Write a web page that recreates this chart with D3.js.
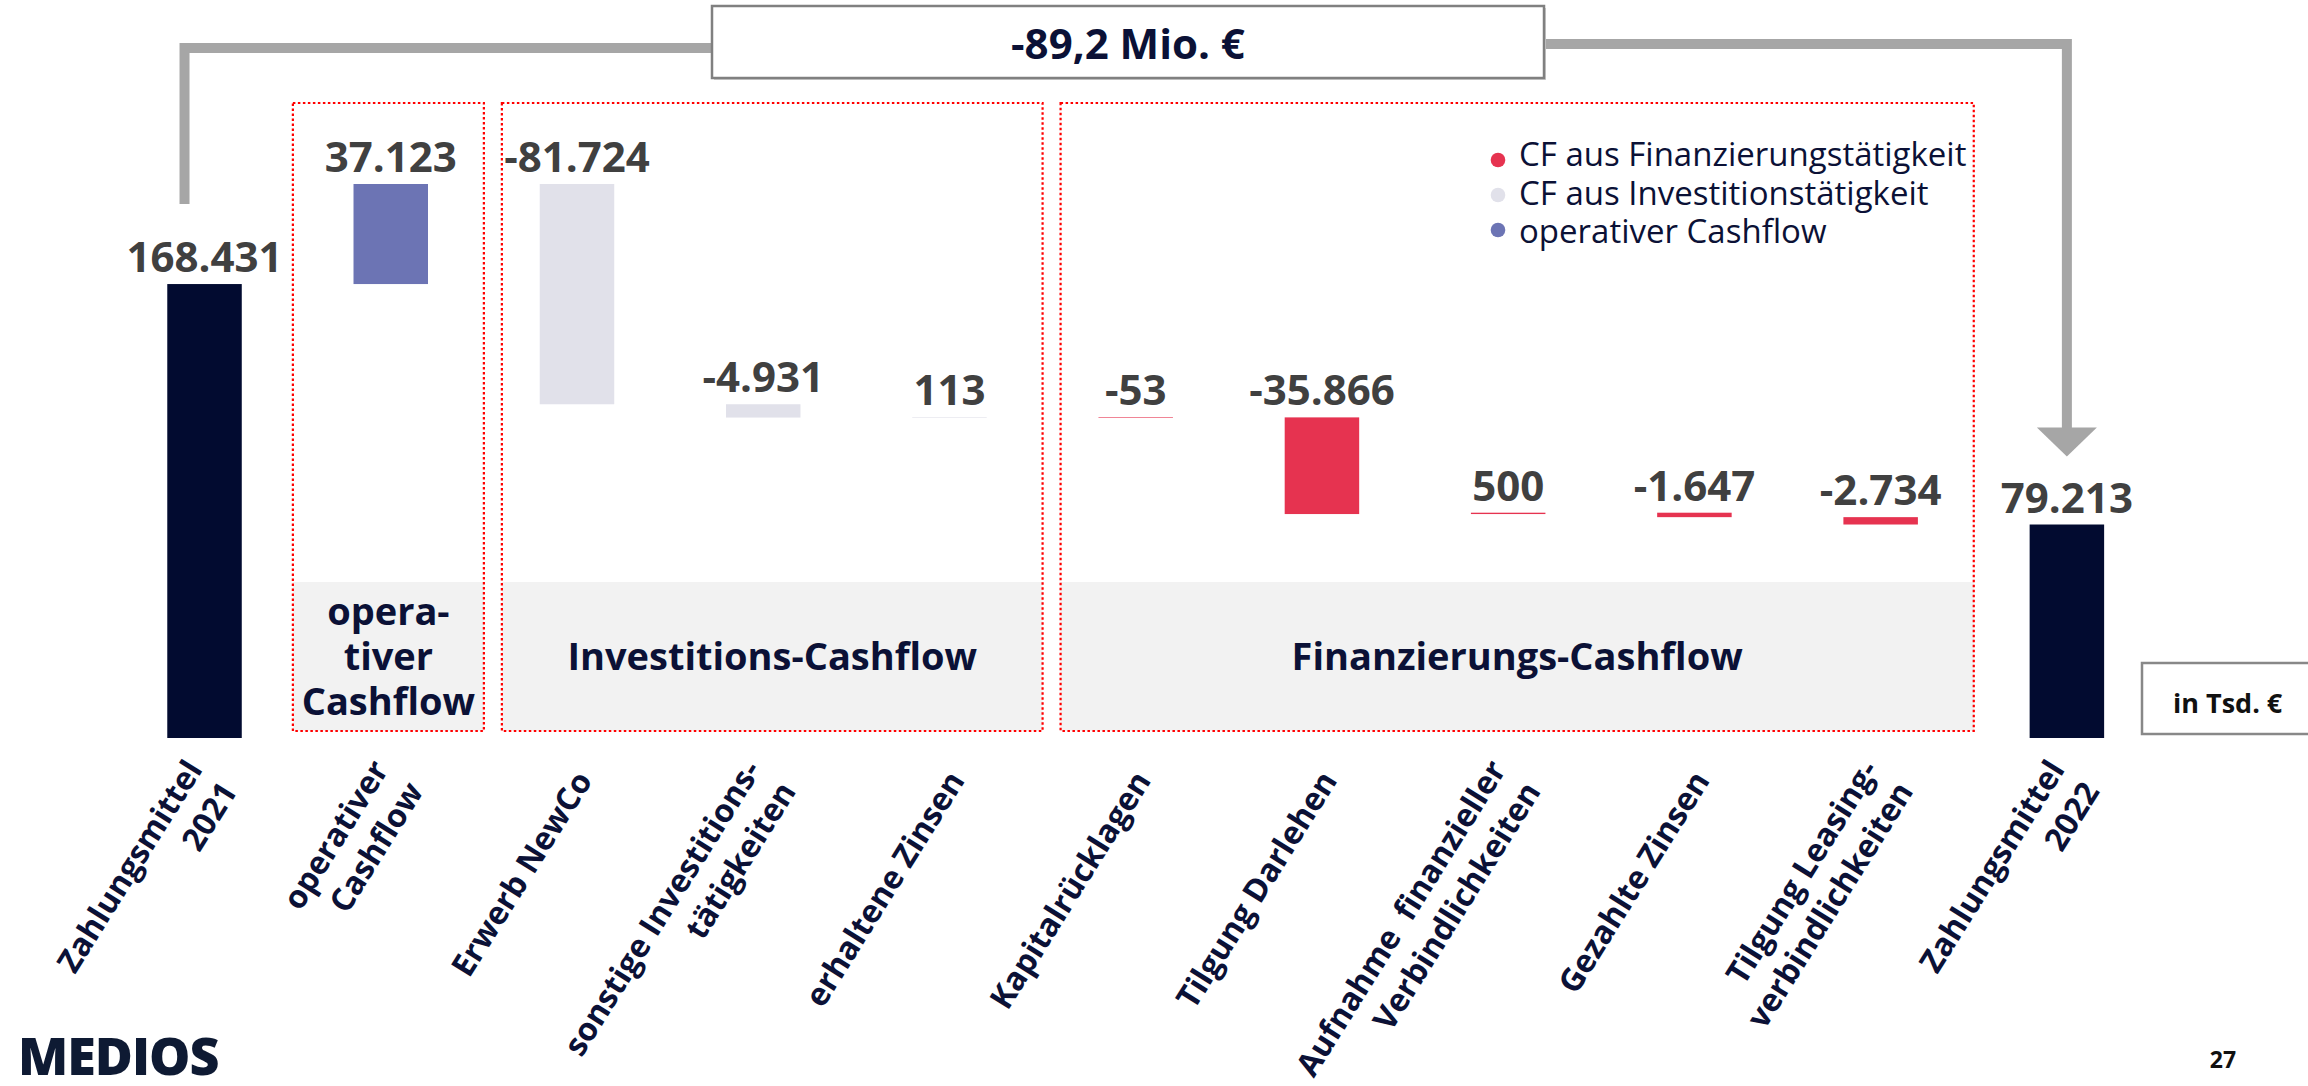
<!DOCTYPE html>
<html>
<head>
<meta charset="utf-8">
<script src="https://cdn.jsdelivr.net/npm/d3@7"></script>
<style>
  body { margin: 0; background: #fff; }
  svg { display: block; font-family: "Open Sans", sans-serif; }
</style>
</head>
<body>
<svg id="chart" width="2308" height="1086"></svg>
<script>
// --- data (in Tsd. €) ---
const categories = [
    "Zahlungsmittel\n2021",
    "operativer\nCashflow",
    "Erwerb NewCo",
    "sonstige Investitions-\ntätigkeiten",
    "erhaltene Zinsen",
    "Kapitalrücklagen",
    "Tilgung Darlehen",
    "Aufnahme  finanzieller\nVerbindlichkeiten",
    "Gezahlte Zinsen",
    "Tilgung Leasing-\nverbindlichkeiten",
    "Zahlungsmittel\n2022"
];
const values = [168431, 37123, -81724, -4931, 113, -53, -35866, 500, -1647, -2734, 79213];
const kinds = ["total", "operativ", "invest", "invest", "invest", "finanz", "finanz", "finanz", "finanz", "finanz", "total"];

const groupTitles = ["opera-\ntiver\nCashflow", "Investitions-Cashflow", "Finanzierungs-Cashflow"];
const groupFirst = [1, 2, 5];
const groupLast = [1, 4, 9];

const legendLabels = ["CF aus Finanzierungstätigkeit", "CF aus Investitionstätigkeit", "operativer Cashflow"];
const legendKinds = ["finanz", "invest", "operativ"];

const unitLabel = "in Tsd. €";
const logoText = "MEDIOS";
const pageNumber = "27";

// --- styles ---
const colors = { total: "#020b30", operativ: "#6c74b4", invest: "#e1e1ea", finanz: "#e63350" };
const navy = "#0b1136";
const grey = "#a6a6a6";

const de = d3.formatLocale({ decimal: ",", thousands: ".", grouping: [3], currency: ["", " €"], minus: "-" });
const fmt = de.format(",");
const fmtMio = de.format(",.1f");

const svg = d3.select('#chart');

// waterfall
let run = 0;
const bars = values.map((v, i) => {
    let y0, y1;
    if (kinds[i] === "total") { y0 = 0; y1 = v; run = v; }
    else { y0 = run; y1 = run + v; run = y1; }
    return { i, v, kind: kinds[i], y0, y1 };
});

const x = d3.scaleBand()
    .domain(d3.range(values.length))
    .range([111.4, 2160])
    .paddingInner(0.6)
    .paddingOuter(0.3);
const cx = i => x(i) + x.bandwidth() / 2;

const y = d3.scaleLinear()
    .domain([0, d3.max(bars, b => Math.max(b.y0, b.y1))])
    .range([738, 184]);

// group panels
const groups = groupTitles.map((t, k) => {
    const s = groupFirst[k], e = groupLast[k];
    const right = (cx(e) + cx(e + 1)) / 2;
    let left = (cx(s - 1) + cx(s)) / 2 + 18;
    if (right - left < 191) left = right - 191;
    return { title: t, left, right };
});

const boxTop = 103, boxBottom = 731, panelTop = 582;

svg.append('g').selectAll('rect')
    .data(groups)
    .join('rect')
    .attr('x', d => d.left)
    .attr('y', panelTop)
    .attr('width', d => d.right - d.left)
    .attr('height', boxBottom - panelTop)
    .attr('fill', '#f2f2f2');

// bars
svg.append('g').selectAll('rect')
    .data(bars)
    .join('rect')
    .attr('x', d => x(d.i))
    .attr('width', x.bandwidth())
    .attr('y', d => Math.min(y(d.y0), y(d.y1)))
    .attr('height', d => Math.max(Math.abs(y(d.y0) - y(d.y1)), 0.6))
    .attr('fill', d => colors[d.kind]);

// value labels
svg.append('g').selectAll('text')
    .data(bars)
    .join('text')
    .attr('x', d => cx(d.i))
    .attr('y', d => Math.min(y(d.y0), y(d.y1)) - 12)
    .attr('text-anchor', 'middle')
    .attr('font-size', 42)
    .attr('font-weight', 700)
    .attr('fill', '#404040')
    .text(d => fmt(d.v));

// dotted group boxes
svg.append('g').selectAll('rect')
    .data(groups)
    .join('rect')
    .attr('x', d => d.left)
    .attr('y', boxTop)
    .attr('width', d => d.right - d.left)
    .attr('height', boxBottom - boxTop)
    .attr('fill', 'none')
    .attr('stroke', '#ff0000')
    .attr('stroke-width', 2.2)
    .attr('stroke-dasharray', '2.5 2.5');

// group titles
groups.forEach(g => {
    const lines = g.title.split('\n');
    const mid = (panelTop + boxBottom) / 2 + 13;
    const t = svg.append('text')
        .attr('text-anchor', 'middle')
        .attr('font-size', 38)
        .attr('font-weight', 700)
        .attr('fill', navy);
    lines.forEach((l, j) => {
        t.append('tspan')
            .attr('x', (g.left + g.right) / 2)
            .attr('y', mid + (j - (lines.length - 1) / 2) * 45)
            .text(l);
    });
});

// legend
const legend = svg.append('g').attr('transform', 'translate(1498,166)');
legendLabels.forEach((l, j) => {
    legend.append('circle')
        .attr('cx', 0)
        .attr('cy', j * 35 - 6)
        .attr('r', 7.3)
        .attr('fill', colors[legendKinds[j]]);
    legend.append('text')
        .attr('x', 21)
        .attr('y', j * 38.5)
        .attr('font-size', 33)
        .attr('fill', navy)
        .text(l);
});

// bracket with total change
const first = bars[0], last = bars[bars.length - 1];
const leftX = cx(0) - 20, rightX = cx(values.length - 1);
const boxL = 712, boxR = 1544, boxY = 6, boxH = 72;
const tipY = y(last.y1) - 68;

svg.append('path')
    .attr('d', `M${leftX},${y(first.y1) - 80}V48H${boxL}`)
    .attr('fill', 'none')
    .attr('stroke', grey)
    .attr('stroke-width', 10);
svg.append('path')
    .attr('d', `M${boxR},44H${rightX}V${tipY - 28}`)
    .attr('fill', 'none')
    .attr('stroke', grey)
    .attr('stroke-width', 10);
svg.append('path')
    .attr('d', `M${rightX - 30},${tipY - 29}L${rightX + 30},${tipY - 29}L${rightX},${tipY}Z`)
    .attr('fill', grey);

svg.append('rect')
    .attr('x', boxL + 2).attr('y', boxY + 2)
    .attr('width', boxR - boxL).attr('height', boxH)
    .attr('fill', '#d0d0d0');
svg.append('rect')
    .attr('x', boxL).attr('y', boxY)
    .attr('width', boxR - boxL).attr('height', boxH)
    .attr('fill', '#fff')
    .attr('stroke', '#808080')
    .attr('stroke-width', 2.5);
svg.append('text')
    .attr('x', (boxL + boxR) / 2)
    .attr('y', 59)
    .attr('text-anchor', 'middle')
    .attr('font-size', 42)
    .attr('font-weight', 700)
    .attr('fill', navy)
    .text(fmtMio((last.v - first.v) / 1000) + ' Mio. €');

// category labels (rotated)
const catG = svg.append('g');
categories.forEach((c, i) => {
    const lines = c.split('\n');
    const t = catG.append('text')
        .attr('transform', `translate(${cx(i) + 6},774) rotate(-58)`)
        .attr('text-anchor', 'end')
        .attr('font-size', 32)
        .attr('font-weight', 700)
        .attr('fill', navy)
        .style('white-space', 'pre');
    lines.forEach((l, j) => {
        t.append('tspan')
            .attr('x', 0)
            .attr('y', (j - (lines.length - 1) / 2) * 41 + 12)
            .text(l);
    });
});

// unit box
svg.append('rect')
    .attr('x', 2142).attr('y', 663)
    .attr('width', 190).attr('height', 71)
    .attr('fill', '#fff')
    .attr('stroke', '#888')
    .attr('stroke-width', 2.5);
svg.append('text')
    .attr('x', 2173).attr('y', 713)
    .attr('font-size', 27)
    .attr('font-weight', 700)
    .attr('fill', '#111')
    .text(unitLabel);

// footer
svg.append('text')
    .attr('x', 18).attr('y', 1075)
    .attr('font-size', 52)
    .attr('font-weight', 800)
    .attr('letter-spacing', -1)
    .attr('fill', '#0e1a33')
    .text(logoText);
svg.append('text')
    .attr('x', 2223).attr('y', 1068)
    .attr('text-anchor', 'middle')
    .attr('font-size', 23)
    .attr('font-weight', 700)
    .attr('fill', '#111')
    .text(pageNumber);
</script>
</body>
</html>
